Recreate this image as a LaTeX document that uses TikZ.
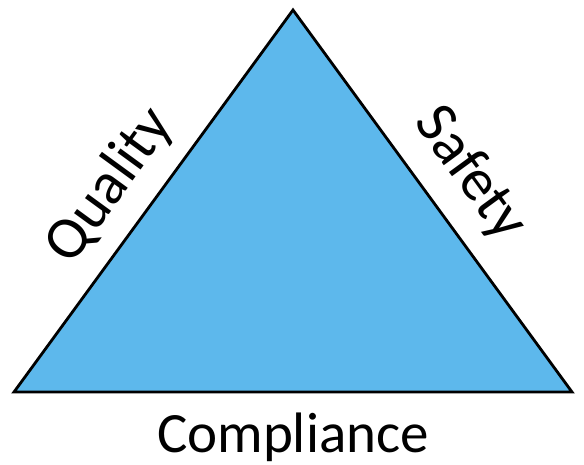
\documentclass[tikz,border=0pt]{standalone}
\usepackage{fontspec}
\setmainfont{Carlito}
\definecolor{triblue}{RGB}{93,184,236}
\tikzset{lbl/.style={font=\fontsize{57}{60}\selectfont, inner sep=0pt},
  side/.style={lbl, font=\fontsize{60}{63}\selectfont}}

\begin{document}
\begin{tikzpicture}[x=1pt,y=1pt]
\useasboundingbox (0,0) rectangle (584,464);
\coordinate (A) at (14,72);
\coordinate (B) at (293,454);
\coordinate (C) at (572,72);
\filldraw[fill=triblue, line width=2.8pt, line join=miter] (A)--(B)--(C)--cycle;
\node[side, rotate=53.9] (quality) at (110,278) {Quality};
\node[side, rotate=-53.9] (safety) at (470,290) {Safety};
\node[lbl, anchor=base] (compliance) at (293,12) {Compliance};
\end{tikzpicture}
\end{document}
